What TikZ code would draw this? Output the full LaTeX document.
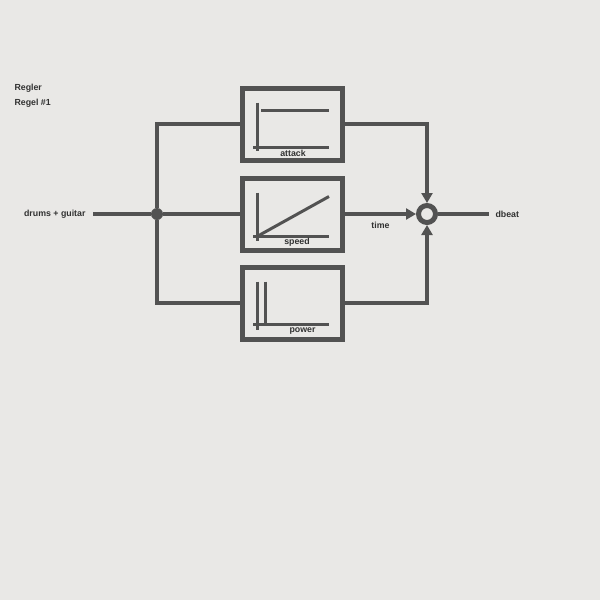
\documentclass[tikz,border=0pt]{standalone}
\usepackage{fontspec}
\setmainfont{Liberation Sans}
\usetikzlibrary{positioning,arrows.meta}
\definecolor{cover}{RGB}{233,232,230}
\definecolor{ink}{RGB}{82,82,82}

\begin{document}
\begin{tikzpicture}
[x=1pt,y=-1pt,
 block/.style={draw=ink,line width=5pt,minimum width=100pt,minimum height=72pt,inner sep=0pt},
 wire/.style={draw=ink,line width=3.5pt},
 axis/.style={draw=ink,line width=3pt},
 tip/.style={-{Triangle[length=10pt,width=11pt]}},
 txt/.style={text=ink!60!black,font=\fontsize{8.8}{10}\selectfont\bfseries}]
\useasboundingbox[fill=cover] (0,0) rectangle (600,600);
\node[txt,anchor=west](title) at (11,88){Regler};
\node[txt,anchor=west](rule) at (11,103){Regel \#1};
\node[block](speed) at (292.5,214){};
\node[block, above=13pt of speed](attack){};
\node[block, below=12pt of speed](power){};
\node[circle,draw=ink,line width=5pt,minimum size=17pt,inner sep=0pt](sum) at (427,214){};
\node[circle,fill=ink,minimum size=12pt,inner sep=0pt](split) at (157,214){};
\node[txt,left](in) at (89,214){drums + guitar};
\node[txt,right](out) at (492,214){dbeat};
\coordinate (start) at (93,214);
\coordinate (end) at (489,214);
\draw[wire,line width=4.5pt] (start) -- (split);
\draw[wire] (split) -- (speed);
\draw[wire] (split) |- (attack);
\draw[wire] (split) |- (power);
\path (speed) edge[wire,tip] node[txt,below=3pt]{time} (sum);
\draw[wire,tip] (attack) -| (sum);
\draw[wire,tip] (power) -| (sum);
\draw[wire] (sum) -- (end);
% curves inside the blocks
\begin{scope}[shift={(attack.center)}]
  \draw[axis] (-35.5,-21.5) -- (-35.5,26.5);
  \draw[axis] (-39.5,23.5) -- (36.5,23.5);
  \draw[axis] (-31.5,-13.5) -- (36.5,-13.5);
  \node[txt] at (0.5,29){attack};
\end{scope}
\begin{scope}[shift={(speed.center)}]
  \draw[axis] (-35.5,-21.5) -- (-35.5,26.5);
  \draw[axis] (-39.5,22.5) -- (36.5,22.5);
  \draw[axis] (-35.5,22.5) -- (36.5,-17.5);
  \node[txt] at (4.5,28.5){speed};
\end{scope}
\begin{scope}[shift={(power.center)}]
  \draw[axis] (-35.5,-21.5) -- (-35.5,26.5);
  \draw[axis] (-27.5,-21.5) -- (-27.5,21.5);
  \draw[axis] (-39.5,21.5) -- (36.5,21.5);
  \node[txt] at (10,28.5){power};
\end{scope}
\end{tikzpicture}
\end{document}
